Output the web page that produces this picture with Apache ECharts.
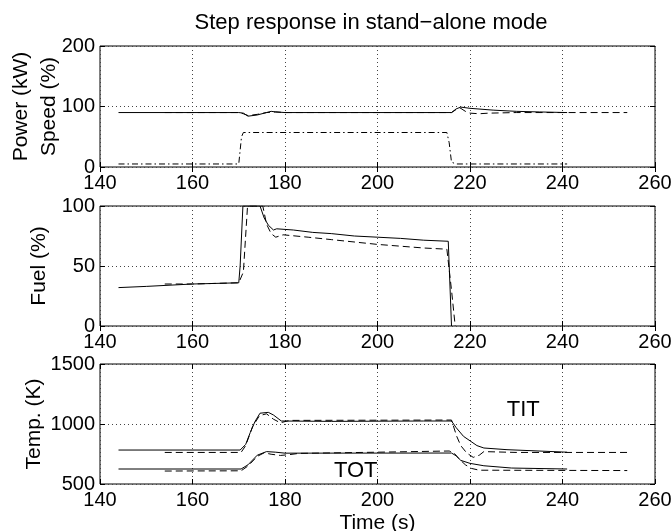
<!DOCTYPE html>
<html>
<head>
<meta charset="utf-8">
<script src="https://cdn.jsdelivr.net/npm/echarts@6/dist/echarts.min.js"></script>
<style>
  html, body { margin: 0; padding: 0; background: #fff; }
  #chart { width: 672px; height: 531px; }
</style>
</head>
<body>
<div id="chart"></div>
<script>
// power / speed panel
const powerMeasT = [144, 170, 171, 172, 174, 176, 177, 178, 180, 200, 216, 217, 218, 220, 225, 230, 235, 241]
const powerMeasV = [90, 90, 89, 84, 86, 90, 92, 91, 90, 90, 90, 96, 99, 97, 94, 92, 91, 90]
const powerSimT = [154, 170, 171, 172, 174, 176, 178, 180, 216, 217, 218, 219, 220, 222, 224, 230, 254]
const powerSimV = [90, 90, 88, 85, 87, 90, 91, 90, 90, 95, 97, 92, 89, 88, 89, 90, 90]
const speedT = [144, 170, 170.6, 171, 215, 215.5, 216, 217, 241]
const speedV = [5, 5, 50, 57, 57, 40, 8, 5, 5]

// fuel panel
const fuelMeasT = [144, 150, 160, 170, 170.3, 170.9, 174.6, 175.5, 176.4, 177.5, 178.2, 181.8, 186, 190, 195, 200, 205, 210, 215.3, 216]
const fuelMeasV = [32, 33, 35, 36, 50, 100, 100, 90, 84, 80, 81, 80, 78, 77, 75, 74, 73, 71.5, 70.6, 0]
const fuelSimT = [154, 160, 170, 171, 171.9, 175.2, 176, 177, 178, 179.6, 185, 190, 200, 210, 215, 216, 216.8]
const fuelSimV = [35, 35, 36, 45, 100, 100, 85, 77, 74, 76, 74, 72, 68, 65, 64, 30, 0]

// temperature panel
const titMeasT = [144, 170.3, 171.5, 172.5, 173.5, 174.6, 176.4, 177.5, 179.2, 190, 210, 216, 217, 218.6, 220, 221.5, 223, 228, 241]
const titMeasV = [783, 783, 830, 930, 1020, 1090, 1097, 1075, 1025, 1022, 1025, 1025, 970, 897, 860, 820, 800, 786, 765]
const titSimT = [154, 170.5, 171.5, 173, 174.5, 176, 177.5, 179, 181, 216, 217.1, 218, 219.3, 220.7, 222, 223, 230, 254]
const titSimV = [763, 763, 820, 980, 1070, 1085, 1040, 1010, 1030, 1033, 900, 820, 758, 722, 740, 770, 763, 763]
const totMeasT = [144, 170.5, 172, 174, 176, 178, 180, 216, 217, 218, 220, 223, 229, 241]
const totMeasV = [625, 625, 660, 740, 770, 765, 757, 758, 735, 697, 672, 652, 633, 625]
const totSimT = [154, 170.5, 172, 174, 175.5, 177, 179, 181, 183, 200, 215.5, 216.5, 217.8, 219, 220.3, 222, 254]
const totSimV = [608, 610, 650, 730, 760, 748, 738, 745, 755, 765, 775, 760, 703, 660, 630, 615, 612]

// annotations
const titLabelAt = [231.5, 1119]
const totLabelAt = [195.3, 605]

const xTicks = [140, 160, 180, 200, 220, 240, 260]

const zip = (t, v) => t.map((x, i) => [x, v[i]])

const font = 'Liberation Sans, Arial, Helvetica, sans-serif'
const grids = [
  { left: 100, right: 17, top: 46, height: 121 },
  { left: 100, right: 17, top: 206, height: 120 },
  { left: 100, right: 17, top: 364, height: 120 },
].map((g) => ({ ...g, show: true, borderColor: '#000', borderWidth: 1, outerBoundsMode: 'none', containLabel: false }))

const gridLine = { show: true, lineStyle: { color: '#444', type: [1, 3], width: 1 } }

function xAxisFor(i) {
  return {
    type: 'value',
    gridIndex: i,
    min: xTicks[0],
    max: xTicks[xTicks.length - 1],
    interval: 20,
    axisLine: { show: false },
    axisTick: { show: true, inside: true, length: 5, lineStyle: { color: '#000' } },
    axisLabel: { color: '#000', fontSize: 20, fontFamily: font, margin: 6, formatter: (v) => String(v) },
    splitLine: gridLine,
    name: i === 2 ? 'Time (s)' : '',
    nameLocation: 'middle',
    nameGap: 29,
    nameMoveOverlap: false,
    nameTextStyle: { color: '#000', fontSize: 21, fontFamily: font },
  }
}
function xMirror(i) {
  return {
    type: 'value', gridIndex: i, position: 'top',
    min: 140, max: 260, interval: 20,
    axisLine: { show: false },
    axisTick: { show: true, inside: true, length: 5, lineStyle: { color: '#000' } },
    axisLabel: { show: false }, splitLine: { show: false },
  }
}
function yAxisFor(i, min, max, interval, name, gap, lh) {
  return {
    type: 'value', gridIndex: i, min, max, interval,
    axisLine: { show: false },
    axisTick: { show: true, inside: true, length: 5, lineStyle: { color: '#000' } },
    axisLabel: { color: '#000', fontSize: 20, fontFamily: font, margin: 5, formatter: (v) => String(v) },
    splitLine: gridLine,
    name, nameLocation: 'middle', nameGap: gap, nameRotate: 90,
    nameMoveOverlap: false,
    nameTextStyle: { color: '#000', fontSize: 21, fontFamily: font, lineHeight: lh },
  }
}
function yMirror(i, min, max, interval) {
  return {
    type: 'value', gridIndex: i, position: 'right', min, max, interval,
    axisLine: { show: false },
    axisTick: { show: true, inside: true, length: 5, lineStyle: { color: '#000' } },
    axisLabel: { show: false }, splitLine: { show: false },
  }
}

function line(data, xi, yi, type, extra) {
  return {
    type: 'line', data, xAxisIndex: xi, yAxisIndex: yi,
    symbol: 'none', clip: true, animation: false,
    lineStyle: { color: '#000', width: 1, type },
    ...extra,
  }
}
function textMark(text, coord) {
  return {
    markPoint: {
      symbol: 'circle', symbolSize: 0, silent: true,
      data: [{ coord, value: text }],
      label: { show: true, formatter: text, color: '#000', fontSize: 22, fontFamily: font, position: 'inside' },
    },
  }
}

const chart = echarts.init(document.getElementById('chart'))
chart.setOption({
  backgroundColor: '#fff',
  animation: false,
  title: {
    text: 'Step response in stand\u2212alone mode',
    left: 366, top: 7, textAlign: 'center',
    textStyle: { color: '#000', fontSize: 22, fontWeight: 'normal', fontFamily: font },
  },
  grid: grids,
  xAxis: [xAxisFor(0), xAxisFor(1), xAxisFor(2), xMirror(0), xMirror(1), xMirror(2)],
  yAxis: [
    yAxisFor(0, 0, 200, 100, 'Power (kW)\nSpeed (%)', 37, 28),
    yAxisFor(1, 0, 100, 50, 'Fuel (%)', 49, 24),
    yAxisFor(2, 500, 1500, 500, 'Temp. (K)', 54, 24),
    yMirror(0, 0, 200, 100), yMirror(1, 0, 100, 50), yMirror(2, 500, 1500, 500),
  ],
  series: [
    line(zip(powerMeasT, powerMeasV), 0, 0, 'solid'),
    line(zip(powerSimT, powerSimV), 0, 0, [7, 4]),
    line(zip(speedT, speedV), 0, 0, [6, 3, 1.5, 3]),
    line(zip(fuelMeasT, fuelMeasV), 1, 1, 'solid'),
    line(zip(fuelSimT, fuelSimV), 1, 1, [7, 4]),
    line(zip(titMeasT, titMeasV), 2, 2, 'solid', textMark('TIT', titLabelAt)),
    line(zip(titSimT, titSimV), 2, 2, [7, 4]),
    line(zip(totMeasT, totMeasV), 2, 2, 'solid', textMark('TOT', totLabelAt)),
    line(zip(totSimT, totSimV), 2, 2, [7, 4]),
  ],
})
</script>
</body>
</html>
